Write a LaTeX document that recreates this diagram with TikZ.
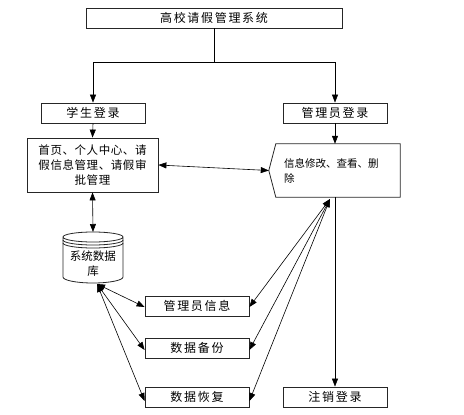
\documentclass[tikz,border=0pt]{standalone}
\usepackage{fontspec}
\setmainfont{Noto Sans CJK SC}
\usetikzlibrary{arrows.meta}

\tikzset{
  box/.style={draw=black!85, line width=0.8pt, minimum width=104, minimum height=20, inner sep=2,
    font=\fontsize{12}{14}\selectfont\addfontfeature{LetterSpace=14}},
  arrow/.style={-{Triangle[width=6pt,length=8pt]}, line width=0.6pt},
  darrow/.style={{Triangle[width=6pt,length=8pt]}-{Triangle[width=6pt,length=8pt]}, line width=0.6pt}
}

\begin{document}
\begin{tikzpicture}[x=1pt, y=-1pt]
    \useasboundingbox (0,0) rectangle (464,415);

    % 1. SISTEMA I ENTRADES
    \node[box, minimum width=256] (sys) at (214,18) {高校请假管理系统};
    \node[box] (stu) at (93,113) {学生登录};
    \node[box] (adm) at (335,113) {管理员登录};
    \coordinate (fork) at (214,62);
    \draw[line width=0.6pt] (sys.south) -- (fork);
    \draw[arrow] (fork) -| (stu.north);
    \draw[arrow] (fork) -| (adm.north);

    % 2. MENUS
    \node[box, minimum width=131, minimum height=54, align=center,
          font=\fontsize{11.5}{15}\selectfont\addfontfeature{LetterSpace=5}] (stumenu) at (92.5,165)
          {首页、个人中心、请\\假信息管理、请假审\\批管理};
    \node[minimum width=124, minimum height=53, text width=108, inner sep=8, align=left,
          font=\fontsize{10.5}{15}\selectfont] (admmenu) at (338,170.5)
          {信息修改、查看、删\\除};
    \coordinate (admtip) at ([xshift=-7]admmenu.west);
    \draw[draw=black!85, line width=0.8pt] (admmenu.north west) -- (admmenu.north east)
        -- (admmenu.south east) -- (admmenu.south west) -- (admtip) -- cycle;
    \draw[arrow] (stu.south) -- (stumenu.north);
    \draw[arrow] (adm.south) -- (adm.south |- admmenu.north);
    \draw[darrow] (stumenu.east) -- (admtip);

    % 3. BASE DE DADES
    \draw[draw=black!85, line width=0.8pt, fill=white] (63,237) -- (63,277)
        arc[start angle=180, end angle=0, x radius=30, y radius=6] -- (123,237)
        arc[start angle=0, end angle=-180, x radius=30, y radius=5]
        arc[start angle=180, end angle=0, x radius=30, y radius=5];
    \foreach \dy in {3,6}
        \draw[draw=black!85, line width=0.8pt] (63,237+\dy)
            arc[start angle=180, end angle=0, x radius=30, y radius=5];
    \node[align=center, font=\fontsize{11.5}{15}\selectfont] (db) at (93,264) {系统数据\\库};
    \coordinate (dbtop) at (93,232);
    \coordinate (dbbot) at (97,284);
    \draw[darrow] (stumenu.south) -- (dbtop);

    % 4. GESTIO DE DADES
    \node[box] (info) at (197,306) {管理员信息};
    \node[box] (backup) at (197,348) {数据备份};
    \node[box] (restore) at (197,397) {数据恢复};
    \node[box] (logout) at (335,397) {注销登录};
    \coordinate (admconv) at (330,199);

    \foreach \n/\s in {info/-1, backup/-2, restore/-4} {
        \draw[darrow] (dbbot) -- ([yshift=\s]\n.west);
        \draw[darrow] (admconv) -- ([yshift=\s]\n.east);
    }
    \draw[arrow] (admmenu.south -| logout.north) -- (logout.north);

\end{tikzpicture}
\end{document}
